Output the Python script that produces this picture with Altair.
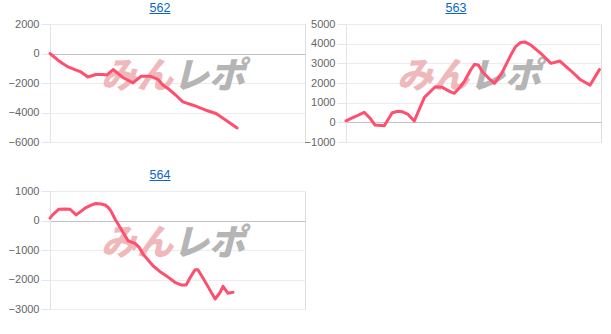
import altair as alt
import pandas as pd

# Game counts and cumulative coin difference for each machine
games_562 = [0, 250, 410, 570, 820, 970, 1190, 1440, 1660, 1790, 1980, 2290, 2600, 2860,
             3140, 3390, 3550, 3700, 3950, 4170, 4490, 4890, 5210, 5520, 5870]
diff_562 = [0, -455, -700, -910, -1130, -1250, -1590, -1420, -1420, -1450, -1085, -1630,
            -1990, -1540, -1540, -1760, -2155, -2370, -2830, -3280, -3505, -3845, -4070,
            -4520, -5050]

games_563 = [0, 280, 570, 760, 910, 1200, 1450, 1640, 1760, 1950, 2140, 2460, 2800, 3020,
             3280, 3400, 3590, 3720, 3910, 4030, 4160, 4280, 4470, 4660, 4910, 5170, 5320,
             5480, 5610, 5800, 6110, 6430, 6710, 7030, 7370, 7660, 7950]
diff_563 = [80, 285, 510, 200, -140, -170, 490, 560, 540, 400, 65, 1270, 1810, 1780, 1550,
            1475, 1810, 2100, 2660, 2950, 2900, 2570, 2250, 1985, 2570, 3420, 3850, 4065,
            4090, 3930, 3510, 3000, 3115, 2660, 2150, 1895, 2680]

games_564 = [0, 90, 280, 470, 630, 820, 970, 1130, 1290, 1440, 1600, 1730, 1820, 1910, 2040,
             2200, 2450, 2670, 2790, 2920, 3230, 3480, 3640, 3920, 4110, 4270, 4390, 4550,
             4640, 4800, 4960, 5180, 5330, 5430, 5580, 5740]
diff_564 = [80, 200, 382, 390, 382, 190, 310, 440, 520, 575, 560, 527, 450, 325, 50, -237,
            -690, -777, -900, -1140, -1535, -1757, -1870, -2095, -2185, -2185, -1950, -1668,
            -1668, -1950, -2250, -2660, -2450, -2230, -2466, -2432]

y_ticks_562 = [-6000, -4000, -2000, 0, 2000]
y_ticks_563 = [-1000, 0, 1000, 2000, 3000, 4000, 5000]
y_ticks_564 = [-3000, -2000, -1000, 0, 1000]

GAME_MAX = 8000
W, H = 255, 118
LINE_COLOR = "#ff4f6e"
LINK_COLOR = "#0b66c8"
FONT = "Liberation Sans"


def panel(name, games, diffs, ticks):
    df = pd.DataFrame({"game": games, "diff": diffs})
    x = alt.X("game:Q", scale=alt.Scale(domain=[0, GAME_MAX], nice=False), axis=None)
    y = alt.Y(
        "diff:Q",
        scale=alt.Scale(domain=[ticks[0], ticks[-1]], nice=False, zero=False),
        axis=alt.Axis(
            values=ticks, title=None, labelFont=FONT, labelFontSize=11,
            labelColor="#666666", labelPadding=2, tickSize=9, tickColor="#e6e6e6",
            domainColor="#e3e3e3", format="d", labelOverlap=False,
            # the zero baseline is drawn a shade darker than the other grid lines
            gridColor={"condition": {"test": "datum.value === 0", "value": "#c2c2c2"},
                       "value": "#ececec"},
        ),
    )
    lines = alt.Chart(df).mark_line(
        color=LINE_COLOR, strokeWidth=3, strokeJoin="round", strokeCap="round"
    ).encode(x=x, y=y)

    lbl = pd.DataFrame({"t": [name]})
    title = alt.Chart(lbl).mark_text(
        font=FONT, fontSize=12.5, color=LINK_COLOR, align="center", baseline="alphabetic"
    ).encode(text="t:N", x=alt.value(110), y=alt.value(-12))
    underline = alt.Chart(lbl).mark_rule(color=LINK_COLOR, strokeWidth=1).encode(
        x=alt.value(99.5), x2=alt.value(120.5), y=alt.value(-10.5))

    mark_a = alt.Chart(pd.DataFrame({"t": ["みん"]})).mark_text(
        font="Noto Sans CJK JP", fontSize=36, fontWeight=900, fontStyle="italic",
        color="#efb9bb", align="center", baseline="middle"
    ).encode(text="t:N", x=alt.value(87), y=alt.value(53))
    mark_b = alt.Chart(pd.DataFrame({"t": ["レポ"]})).mark_text(
        font="Noto Sans CJK JP", fontSize=36, fontWeight=900, fontStyle="italic",
        color="#b5b5b5", align="center", baseline="middle"
    ).encode(text="t:N", x=alt.value(159), y=alt.value(53))

    return alt.layer(mark_a, mark_b, lines, title, underline).properties(width=W, height=H)


p562 = panel("562", games_562, diff_562, y_ticks_562)
p563 = panel("563", games_563, diff_563, y_ticks_563)
p564 = panel("564", games_564, diff_564, y_ticks_564)

chart = alt.vconcat(
    alt.hconcat(p562, p563, spacing=-3),
    p564,
    spacing=20,
).properties(
    padding={"left": 7, "top": 1, "right": 0, "bottom": 0}
).configure_view(stroke=None).configure(background="white")

chart.save("out.html", embed_options={"renderer": "svg", "actions": False})
